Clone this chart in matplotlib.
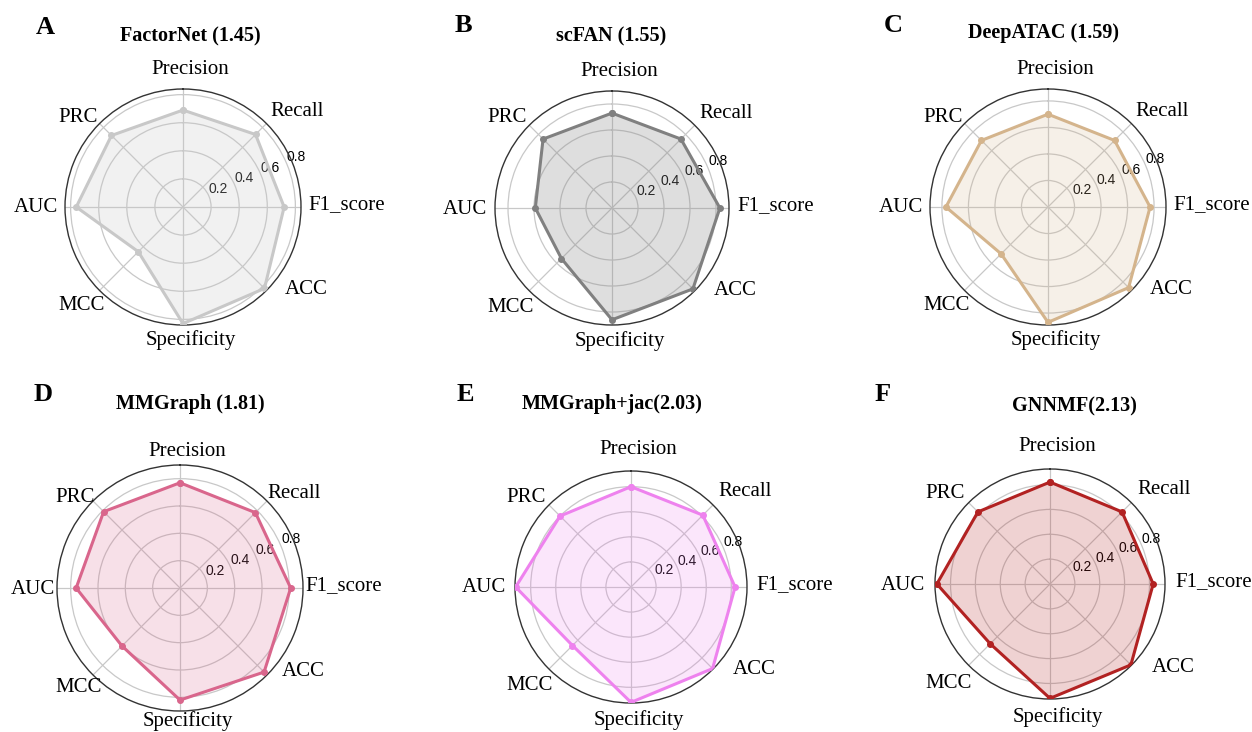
import numpy as np
import matplotlib
matplotlib.use("Agg")
import matplotlib.pyplot as plt

categories = ['Precision', 'Recall', 'F1_score', 'ACC', 'Specificity', 'MCC', 'AUC', 'PRC']
factornet = [0.69, 0.73, 0.72, 0.82, 0.83, 0.45, 0.76, 0.72]
scfan = [0.73, 0.75, 0.83, 0.88, 0.86, 0.55, 0.59, 0.75]
deepatac = [0.70, 0.71, 0.77, 0.86, 0.87, 0.50, 0.77, 0.71]
mmgraph = [0.77, 0.78, 0.81, 0.87, 0.82, 0.60, 0.76, 0.79]
mmgraph_jac = [0.80, 0.81, 0.83, 0.92, 0.92, 0.66, 0.92, 0.80]
gnnmf = [0.82, 0.82, 0.83, 0.92, 0.92, 0.68, 0.91, 0.82]
titles = ['FactorNet (1.45)', 'scFAN (1.55)', 'DeepATAC (1.59)',
          'MMGraph (1.81)', 'MMGraph+jac(2.03)', 'GNNMF(2.13)']
letters = ['A', 'B', 'C', 'D', 'E', 'F']
rticks = [0.2, 0.4, 0.6, 0.8]
rtick_labels = ['0.2', '0.4', '0.6', '0.8']

series = [factornet, scfan, deepatac, mmgraph, mmgraph_jac, gnnmf]
line_colors = ['#c8c8c8', '#808080', '#d4b48c', '#d9668c', '#ee82ee', '#b22222']
fill_colors = ['#c8c8c8', '#8a8a8a', '#d4b48c', '#d9668c', '#ee82ee', '#b22222']
fill_alpha = [0.25, 0.28, 0.2, 0.2, 0.2, 0.2]
rmax = [0.84, 0.90, 0.89, 0.90, 0.925, 0.925]

W, H = 1252, 732
fig = plt.figure(figsize=(W / 100, H / 100), dpi=100)

centers = [(183, 207), (612, 208), (1048, 207), (180, 588), (631, 587), (1050, 584)]
radii = [118, 117, 118, 123, 116, 115]
title_pos = [(190, 36), (611, 36), (1043, 33), (190, 404), (612, 404), (1074, 406)]
letter_pos = [(45, 27), (463, 26), (893, 26), (43, 394), (465, 394), (883, 394)]

# category label placement relative to panel centre (pixels): dx, dy, ha
lab_off = [(7, -137, 'center'), (87, -95, 'left'), (125, -2, 'left'), (102, 83, 'left'),
           (8, 133, 'center'), (-78, 99, 'right'), (-125, 1, 'right'), (-85, -90, 'right')]

serif = 'Liberation Serif'
N = len(categories)
angles = np.linspace(0, 2 * np.pi, N, endpoint=False)

for i in range(6):
    cx, cy = centers[i]
    r = radii[i]
    ax = fig.add_axes([(cx - r) / W, 1 - (cy + r) / H, 2 * r / W, 2 * r / H], polar=True)
    ax.set_theta_offset(np.pi / 2)
    ax.set_theta_direction(-1)
    vals = list(series[i]) + [series[i][0]]
    ang = list(angles) + [angles[0]]
    ax.fill(ang, vals, color=fill_colors[i], alpha=fill_alpha[i], zorder=2)
    ax.plot(ang, vals, color=line_colors[i], linewidth=2.2, marker='o', markersize=4, zorder=3)
    ax.set_ylim(0, rmax[i])
    ax.set_xticks(angles)
    ax.set_xticklabels([])
    ax.set_yticks(rticks)
    ax.set_yticklabels(rtick_labels, fontfamily='Liberation Sans', fontsize=10)
    ax.set_rlabel_position(67.5)
    ax.grid(True, color='#c8c8c8', linewidth=0.9)
    ax.spines['polar'].set_color('#333333')
    ax.spines['polar'].set_linewidth(1.0)
    ax.set_facecolor('white')

    for name, (dx, dy, ha) in zip(categories, lab_off):
        fig.text((cx + dx) / W, 1 - (cy + dy) / H, name, ha=ha, va='center',
                 fontfamily=serif, fontsize=15)

    tx, ty = title_pos[i]
    fig.text(tx / W, 1 - ty / H, titles[i], ha='center', va='center',
             fontfamily=serif, fontweight='bold', fontsize=14.5)
    lx, ly = letter_pos[i]
    fig.text(lx / W, 1 - ly / H, letters[i], ha='center', va='center',
             fontfamily=serif, fontweight='bold', fontsize=19)

fig.savefig('out.png', dpi=100)
